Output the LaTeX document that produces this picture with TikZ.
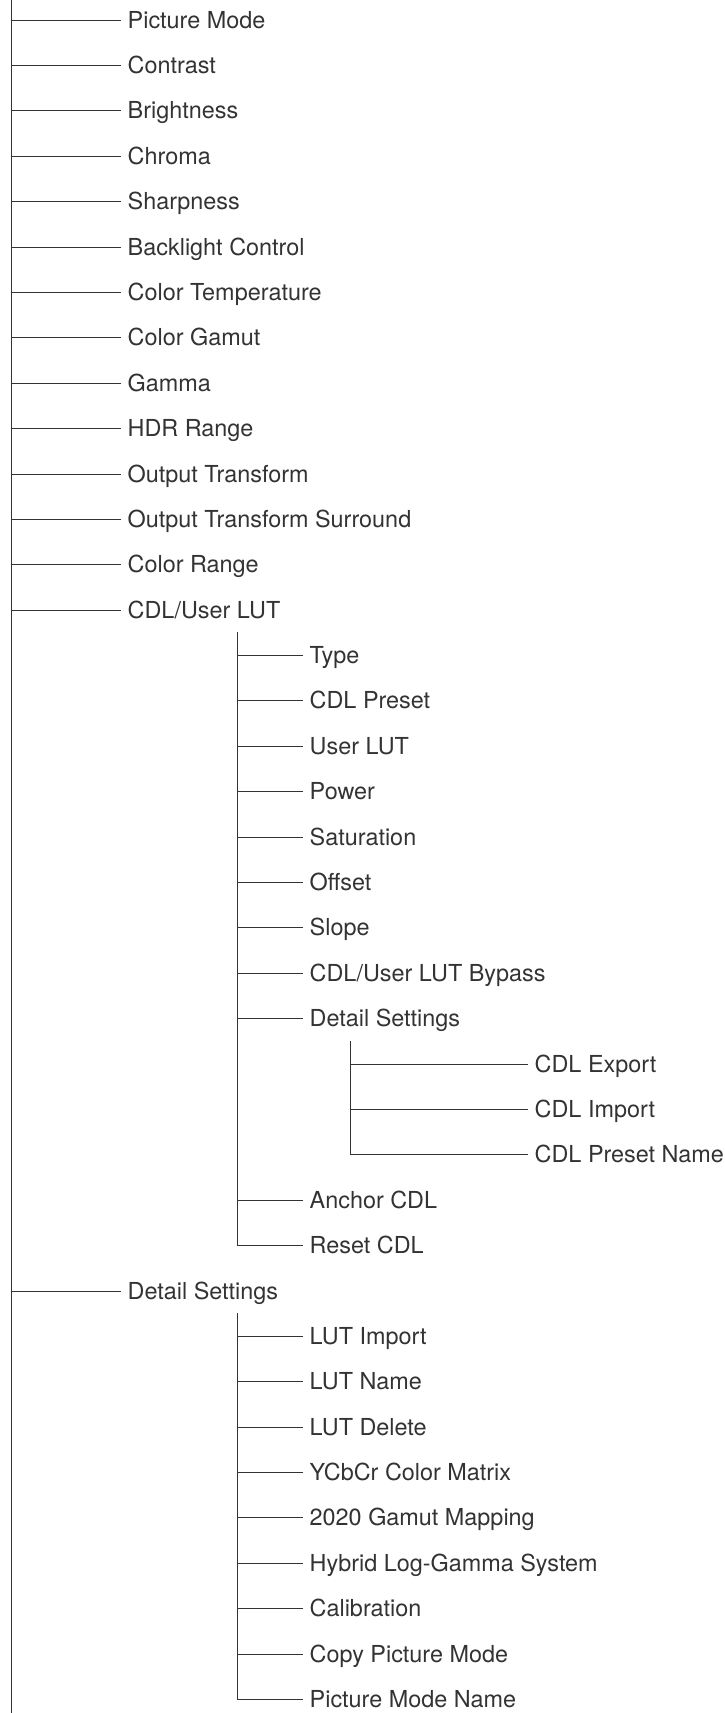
\documentclass[tikz,border=0pt]{standalone}
\usepackage{fontspec}
\setmainfont{TeX Gyre Heros}
\definecolor{ink}{HTML}{333333}
\begin{document}
\begin{tikzpicture}[x=1pt,y=-1pt,
  item/.style={anchor=west, inner xsep=6.5pt, inner ysep=0pt, text height=15pt, text depth=0pt,
    font=\fontsize{23.4}{27}\selectfont, text=ink},
  link/.style={draw=ink, line width=1.7pt}]
\useasboundingbox (0,0) rectangle (724,1713);
% trunk
\coordinate (mtop) at (11.5,0);
\coordinate (mbot) at (11.5,1713);
\draw[link] (mtop) -- (mbot);
% level 1
\node[item] (m0)  at (121,20.5)   {Picture Mode};
\node[item] (m1)  at (121,65.5)   {Contrast};
\node[item] (m2)  at (121,110.5)  {Brightness};
\node[item] (m3)  at (121,156.5)  {Chroma};
\node[item] (m4)  at (121,201.5)  {Sharpness};
\node[item] (m5)  at (121,247.5)  {Backlight Control};
\node[item] (m6)  at (121,292.5)  {Color Temperature};
\node[item] (m7)  at (121,337.5)  {Color Gamut};
\node[item] (m8)  at (121,383.5)  {Gamma};
\node[item] (m9)  at (121,428.5)  {HDR Range};
\node[item] (m10) at (121,474.5)  {Output Transform};
\node[item] (m11) at (121,519.5)  {Output Transform Surround};
\node[item] (m12) at (121,564.5)  {Color Range};
\node[item] (m13) at (121,610.5)  {CDL/User LUT};
\node[item] (m14) at (121,1291.5) {Detail Settings};
\foreach \n in {m0,m1,m2,m3,m4,m5,m6,m7,m8,m9,m10,m11,m12,m13,m14}
  \draw[link] (mtop |- \n.west) -- (\n.west);
% CDL/User LUT children
\coordinate (atop) at (237.5,632);
\node[item] (a0) at (303,655.5)  {Type};
\node[item] (a1) at (303,700.5)  {CDL Preset};
\node[item] (a2) at (303,746.5)  {User LUT};
\node[item] (a3) at (303,791.5)  {Power};
\node[item] (a4) at (303,837.5)  {Saturation};
\node[item] (a5) at (303,882.5)  {Offset};
\node[item] (a6) at (303,927.5)  {Slope};
\node[item] (a7) at (303,973.5)  {CDL/User LUT Bypass};
\node[item] (a8) at (303,1018.5) {Detail Settings};
\node[item] (a9) at (303,1200.5) {Anchor CDL};
\node[item] (a10) at (303,1245.5) {Reset CDL};
\draw[link] (atop) -- (atop |- a10.west) -- (a10.west);
\foreach \n in {a0,a1,a2,a3,a4,a5,a6,a7,a8,a9}
  \draw[link] (atop |- \n.west) -- (\n.west);
% CDL Detail Settings children
\coordinate (ctop) at (350.5,1041);
\node[item] (c0) at (528,1064.5) {CDL Export};
\node[item] (c1) at (528,1109.5) {CDL Import};
\node[item] (c2) at (528,1154.5) {CDL Preset Name};
\draw[link] (ctop) -- (ctop |- c2.west) -- (c2.west);
\foreach \n in {c0,c1}
  \draw[link] (ctop |- \n.west) -- (\n.west);
% Detail Settings children
\coordinate (dtop) at (237.5,1313);
\node[item] (d0) at (303,1336.5) {LUT Import};
\node[item] (d1) at (303,1381.5) {LUT Name};
\node[item] (d2) at (303,1427.5) {LUT Delete};
\node[item] (d3) at (303,1472.5) {YCbCr Color Matrix};
\node[item] (d4) at (303,1517.5) {2020 Gamut Mapping};
\node[item] (d5) at (303,1563.5) {Hybrid Log-Gamma System};
\node[item] (d6) at (303,1608.5) {Calibration};
\node[item] (d7) at (303,1654.5) {Copy Picture Mode};
\node[item] (d8) at (303,1699.5) {Picture Mode Name};
\draw[link] (dtop) -- (dtop |- d8.west) -- (d8.west);
\foreach \n in {d0,d1,d2,d3,d4,d5,d6,d7}
  \draw[link] (dtop |- \n.west) -- (\n.west);
\end{tikzpicture}
\end{document}
